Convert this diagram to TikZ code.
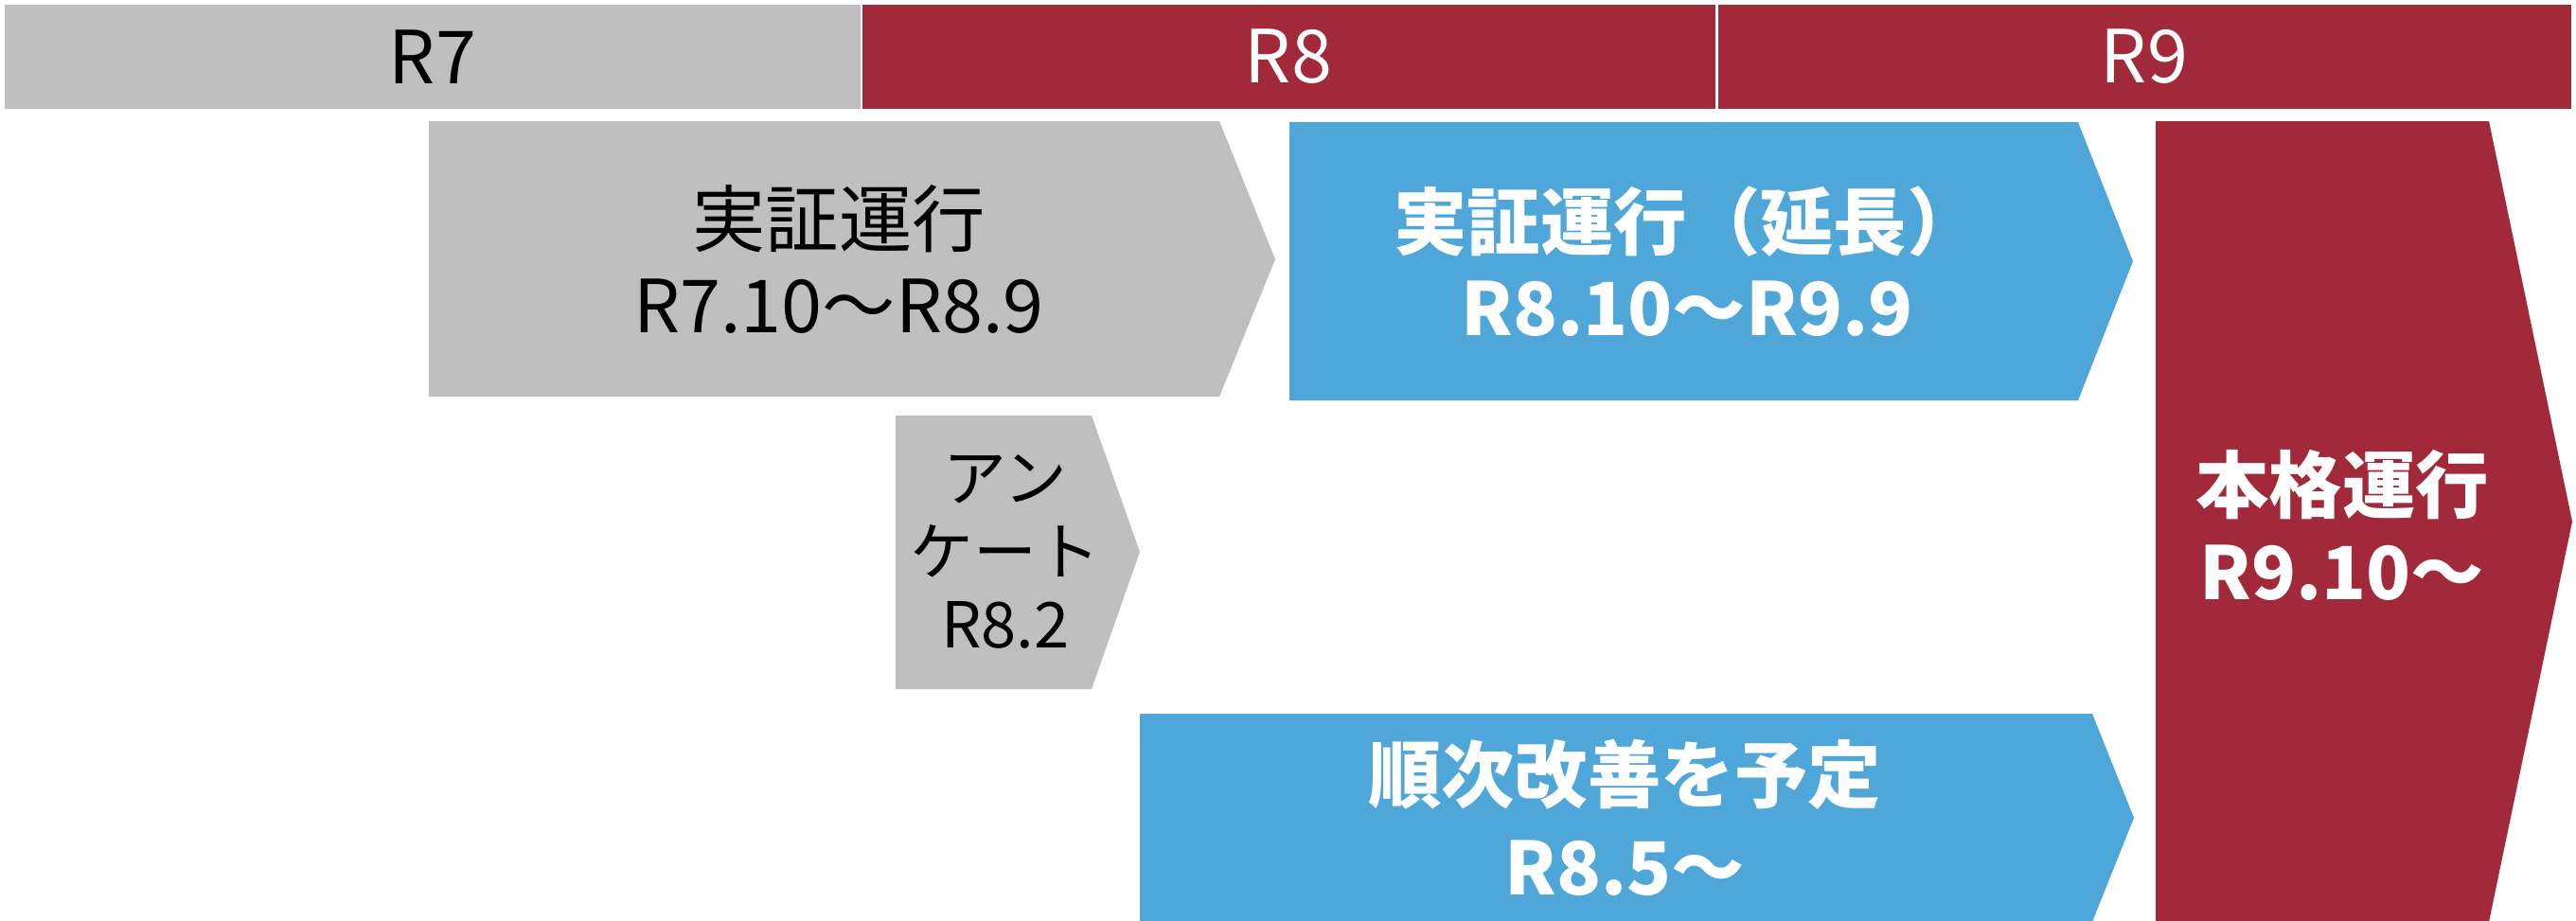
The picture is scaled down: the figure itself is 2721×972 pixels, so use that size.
\documentclass[tikz,border=0pt]{standalone}
\usepackage{fontspec}
\setmainfont{Noto Sans CJK JP}
\definecolor{past}{HTML}{BFBFBF}
\definecolor{reiwa}{HTML}{A12939}
\definecolor{sky}{HTML}{4FA6D8}

\begin{document}
\begin{tikzpicture}[x=0.01cm, y=-0.01cm,
    plaintext/.style={align=center, font=\fontsize{22pt}{26pt}\selectfont},
    whitetext/.style={align=center, text=white, font=\fontsize{22pt}{26pt}\selectfont\bfseries}]
    \useasboundingbox (0,0) rectangle (2721,972);
    % fiscal years
    \fill [past] (5,5) rectangle (909,115);
    \fill [reiwa] (911,5) rectangle (1812,115);
    \fill [reiwa] (1815,5) rectangle (2716,115);
    \node[plaintext] (r7) at (457,60) {R7};
    \node[plaintext, text=white] (r8) at (1361,60) {R8};
    \node[plaintext, text=white] (r9) at (2265,60) {R9};
    % phases
    \fill [past] (453,128) -- (1288,128) -- (1347,274) -- (1288,419) -- (453,419) -- cycle;
    \fill [sky] (1362,129) -- (2195,129) -- (2253,276) -- (2195,423) -- (1362,423) -- cycle;
    \fill [past] (946,439) -- (1153,439) -- (1204,583) -- (1153,728) -- (946,728) -- cycle;
    \fill [sky] (1204,754) -- (2210,754) -- (2254,864) -- (2210,974) -- (1204,974) -- cycle;
    \fill [reiwa] (2277,128) -- (2629,128) -- (2717,551) -- (2629,974) -- (2277,974) -- cycle;
    \node[plaintext] (pilot) at (886,274) {実証運行\\R7.10～R8.9};
    \node[whitetext] (extension) at (1782,276) {実証運行（延長）\\R8.10～R9.9};
    \node[plaintext, font=\fontsize{19pt}{22pt}\selectfont] (survey) at (1062,583) {アン\\ケート\\R8.2};
    \node[whitetext, font=\fontsize{22pt}{28pt}\selectfont\bfseries] (improve) at (1716,864) {順次改善を予定\\R8.5～};
    \node[whitetext] (launch) at (2474,555) {本格運行\\R9.10～};
\end{tikzpicture}
\end{document}
